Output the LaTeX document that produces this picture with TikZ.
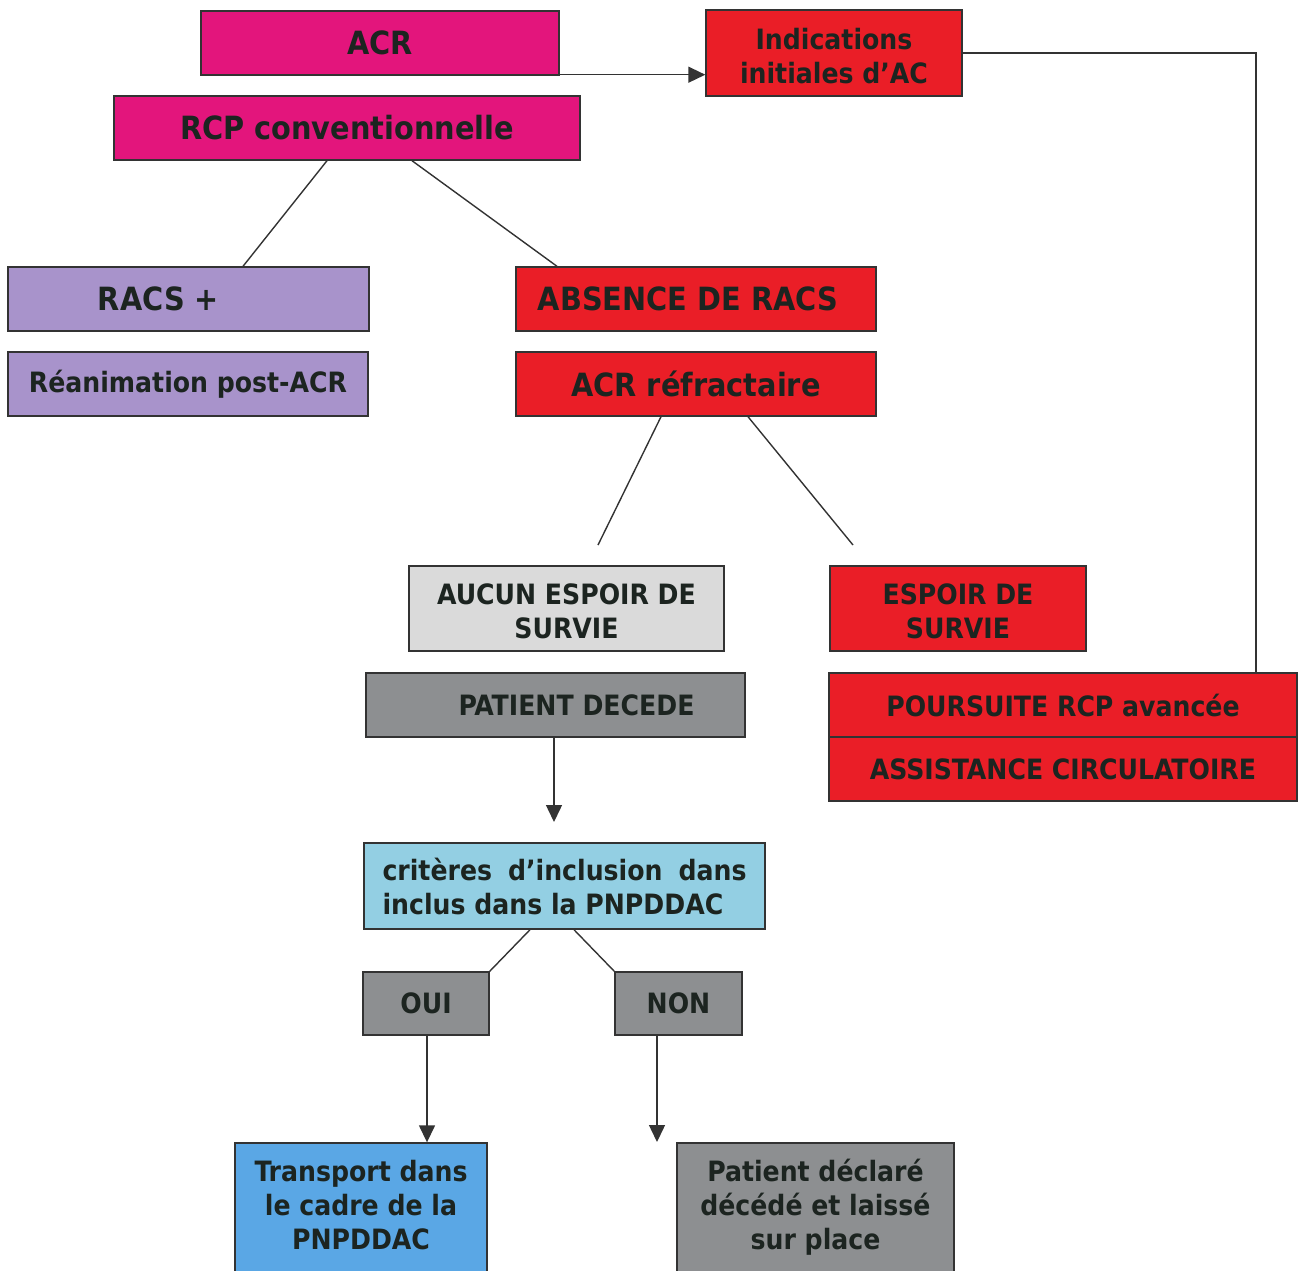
\documentclass[tikz,border=0pt]{standalone}
\usepackage{fontspec}
\setmainfont{DejaVu Sans Condensed}
\usetikzlibrary{arrows.meta}
\definecolor{cpink}{HTML}{E3157C}
\definecolor{cred}{HTML}{EA1E27}
\definecolor{clav}{HTML}{A893CB}
\definecolor{clgray}{HTML}{DADADA}
\definecolor{cgray}{HTML}{8D8F91}
\definecolor{clblue}{HTML}{93CFE3}
\definecolor{cblue}{HTML}{5AA7E5}
\definecolor{cline}{HTML}{333333}
\definecolor{ctext}{HTML}{1C2420}
\tikzset{
  box/.style={draw=cline, line width=1.4pt, inner sep=0pt, text=ctext, font=\bfseries\fontsize{28}{34}\selectfont, align=center},
  big/.style={font=\bfseries\fontsize{32}{36}\selectfont},
  conn/.style={draw=cline, line width=1.4pt},
  arr/.style={conn, -{Triangle[length=17pt,width=16pt]}},
}
\begin{document}
\begin{tikzpicture}[x=1pt,y=-1pt]
\useasboundingbox (0,0) rectangle (1303,1270);
\clip (0,0) rectangle (1303,1270);
% top
\node[box,big,fill=cpink,minimum width=358,minimum height=64] (acr) at (380,43) {ACR};
\node[box,big,fill=cpink,minimum width=466,minimum height=64] (rcp) at (347,128) {RCP conventionnelle};
\node[box,fill=cred,minimum width=256,minimum height=86] (ind) at (834,53) {\rule{0pt}{27pt}Indications\\initiales d’AC};
% second level
\node[box,big,fill=clav,minimum width=361,minimum height=64] (racs) at (188.5,299) {\hspace*{-60pt}RACS +};
\node[box,fill=clav,minimum width=360,minimum height=64] (rea) at (188,384) {Réanimation post-ACR};
\node[box,big,fill=cred,minimum width=360,minimum height=64] (abs) at (696,299) {\hspace*{-16pt}ABSENCE DE RACS};
\node[box,big,fill=cred,minimum width=360,minimum height=64] (refr) at (696,384) {ACR réfractaire};
% third level
\node[box,fill=clgray,minimum width=315,minimum height=85] (aucun) at (566.5,608.5) {\rule{0pt}{27pt}AUCUN ESPOIR DE\\SURVIE};
\node[box,fill=cred,minimum width=256,minimum height=85] (espoir) at (958,608.5) {\rule{0pt}{27pt}ESPOIR DE\\SURVIE};
\node[box,fill=cgray,minimum width=379,minimum height=64] (dec) at (555.5,705) {\hspace*{42pt}PATIENT DECEDE};
\node[box,fill=cred,minimum width=468,minimum height=64] (pours) at (1063,705) {POURSUITE RCP avancée};
\node[box,fill=cred,minimum width=468,minimum height=64] (assist) at (1063,769) {ASSISTANCE CIRCULATOIRE};
% criteria
\node[box,fill=clblue,minimum width=401,minimum height=86,text width=364pt,align=justify] (crit) at (564.5,886) {critères d’inclusion dans\linebreak inclus dans la PNPDDAC};
\node[box,fill=cgray,minimum width=126,minimum height=63] (oui) at (426,1003.5) {OUI};
\node[box,fill=cgray,minimum width=127,minimum height=63] (non) at (678.5,1003.5) {NON};
% bottom
\node[box,fill=cblue,minimum width=252,minimum height=150] (transbox) at (361,1218) {};
\node[box,draw=none,fill=none] (trans) at (361,1205) {Transport dans\\le cadre de la\\PNPDDAC};
\node[box,fill=cgray,minimum width=277,minimum height=150] (declbox) at (815.5,1218) {};
\node[box,draw=none,fill=none] (decl) at (815.5,1207) {Patient déclaré\\décédé et laissé\\sur place};
% connectors
\draw[arr] ([yshift=1pt]acr.south east) -- ([yshift=1pt]acr.south east -| ind.west);
\draw[conn] (ind.east) -| ([xshift=193pt]pours.north);
\draw[conn] ([xshift=-20pt]rcp.south) -- ([xshift=54.5pt]racs.north);
\draw[conn] ([xshift=65pt]rcp.south) -- ([xshift=-139pt]abs.north);
\coordinate (fa) at (598,545);
\coordinate (fb) at (853,545);
\draw[conn] ([xshift=-35pt]refr.south) -- (fa);
\draw[conn] ([xshift=52pt]refr.south) -- (fb);
\coordinate (decend) at (554,822);
\draw[arr] (dec.south -| decend) -- (decend);
\draw[conn] ([xshift=-34.5pt]crit.south) -- (oui.north east);
\draw[conn] ([xshift=9.5pt]crit.south) -- (non.north west);
\draw[arr] ([xshift=1pt]oui.south) -- ([xshift=1pt]oui.south |- transbox.north);
\coordinate (nonend) at (657,1142);
\draw[arr] (non.south -| nonend) -- (nonend);
\end{tikzpicture}
\end{document}
